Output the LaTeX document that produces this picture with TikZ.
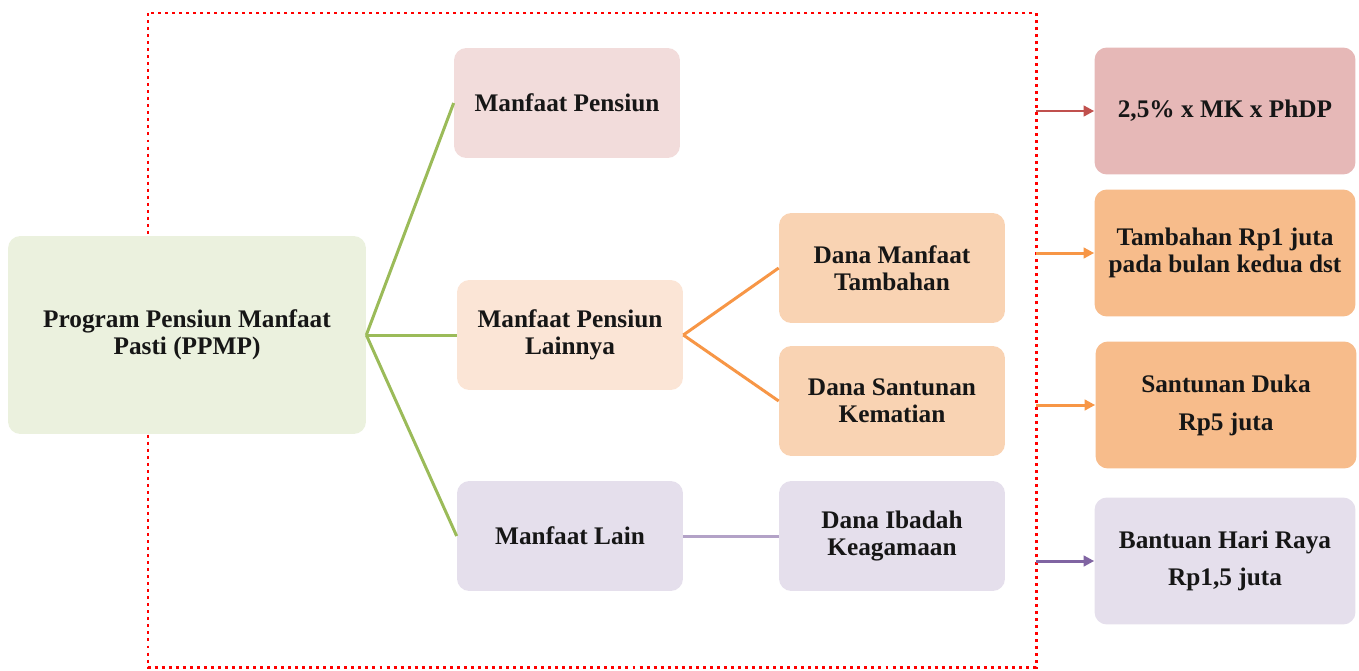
\documentclass[tikz,border=0pt]{standalone}
\usepackage{fontspec}
\setmainfont{Liberation Serif}
\usetikzlibrary{arrows.meta,positioning}
\definecolor{ink}{HTML}{161616}
\definecolor{sage}{HTML}{EBF1DE}
\definecolor{blush}{HTML}{F2DCDB}
\definecolor{peach}{HTML}{FBE5D6}
\definecolor{apricot}{HTML}{F9D3B3}
\definecolor{lilac}{HTML}{E5DFEC}
\definecolor{rosy}{HTML}{E6B8B7}
\definecolor{tan}{HTML}{F7BC8B}
\definecolor{leaf}{HTML}{9BBB59}
\definecolor{amber}{HTML}{F79646}
\definecolor{plum}{HTML}{8064A2}
\definecolor{mauve}{HTML}{B3A2C7}
\definecolor{brick}{HTML}{C0504D}
\definecolor{frame}{HTML}{FF0000}

\begin{document}
\begin{tikzpicture}[x=0.02cm,y=-0.02cm,
    box/.style={rounded corners=7pt,align=center,text=ink,font=\fontsize{14.4}{15.6}\selectfont\bfseries},
    mid/.style={box,minimum width=4.52cm,minimum height=2.2cm},
    res/.style={box,minimum width=5.22cm,minimum height=2.54cm},
    link/.style={line width=1.7pt},
    tip/.style={line width=1.7pt,-{Triangle[length=6pt,width=6pt]}}]
    \useasboundingbox (0,0) rectangle (1359,670);
    % red dotted frame
    \draw[frame,line width=1.7pt,dash pattern=on 1.7pt off 2.3pt] (148,13) rectangle (1036,667);
    \coordinate (fr) at (1036,0);
    % left and middle boxes
    \node[box,fill=sage,minimum width=7.16cm,minimum height=3.96cm] (ppmp) at (187,335) {Program Pensiun Manfaat\\Pasti (PPMP)};
    \node[mid,fill=blush] (mp) at (567,103) {Manfaat Pensiun};
    \node[mid,fill=peach] (mpl) at (570,335) {Manfaat Pensiun\\Lainnya};
    \node[mid,fill=lilac] (ml) at (570,536) {Manfaat Lain};
    \node[mid,fill=apricot] (dmt) at (892,268) {Dana Manfaat\\Tambahan};
    \node[mid,fill=apricot] (dsk) at (892,401) {Dana Santunan\\Kematian};
    \node[mid,fill=lilac] (dik) at (892,536) {Dana Ibadah\\Keagamaan};
    % right boxes
    \node[res,fill=rosy] (r1) at (1225,111) {2,5\% x MK x PhDP};
    \node[res,fill=tan] (r2) at (1225,253) {Tambahan Rp1 juta\\pada bulan kedua dst};
    \node[res,fill=tan] (r3) at (1226,405) {Santunan Duka\\[6pt]Rp5 juta};
    \node[res,fill=lilac] (r4) at (1225,561) {Bantuan Hari Raya\\[5pt]Rp1,5 juta};
    % connectors
    \foreach \y in {mp,mpl,ml} \draw[link,leaf] (ppmp.east) -- (\y.west);
    \foreach \y in {dmt,dsk} \draw[link,amber] (mpl.east) -- (\y.west);
    \draw[link,mauve] (ml.east) -- (dik.west);
    \foreach \r/\c in {r1/brick,r2/amber,r3/amber,r4/plum} {
      \coordinate (s\r) at (fr |- \r.west);
      \draw[tip,\c] (s\r) -- (\r.west);
    }
  \end{tikzpicture}
\end{document}
